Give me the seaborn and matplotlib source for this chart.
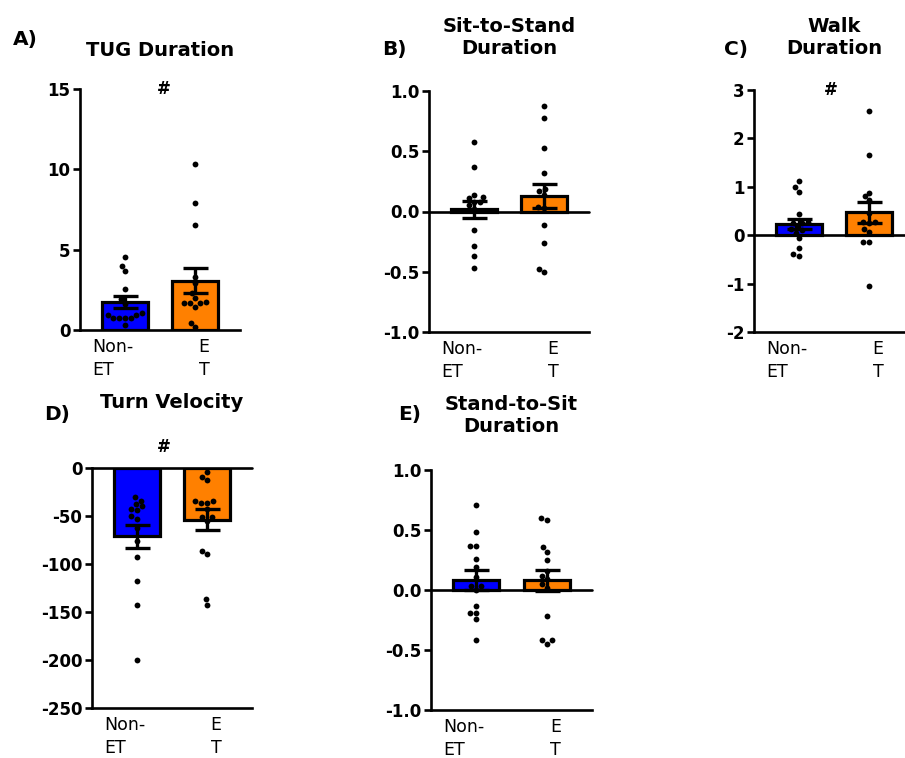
import numpy as np
import pandas as pd
import matplotlib
matplotlib.use("Agg")
import matplotlib.pyplot as plt
import matplotlib.transforms as mtransforms
import seaborn as sns

sns.set_style("ticks")
plt.rcParams['font.family'] = ['DejaVu Sans']
plt.rcParams.update({"axes.edgecolor": "black", "text.color": "black", "xtick.color": "black",
                     "ytick.color": "black", "axes.labelcolor": "black"})

groups = ["Non-ET", "ET"]
tick_labels = ["Non-\nET", "E\nT"]
colors = ["#0000FF", "#FF8000"]

# A) TUG Duration
tug_non = [4.53, 4.0, 3.68, 2.54, 1.9, 1.6, 1.04, 0.96, 0.93, 0.73, 0.73, 0.73, 0.73, 0.31]
tug_et = [10.34, 7.93, 6.54, 3.3, 2.9, 2.3, 1.98, 1.77, 1.66, 1.66, 1.66, 1.45, 0.42, 0.17]
tug_mean = [1.75, 3.07]
tug_sem = [0.37, 0.78]

# B) Sit-to-Stand Duration
sts_non = [0.58, 0.37, 0.14, 0.12, 0.11, 0.08, 0.08, 0.05, 0.02, -0.15, -0.29, -0.37, -0.47]
sts_et = [0.875, 0.775, 0.53, 0.32, 0.19, 0.17, 0.14, 0.04, 0.03, -0.11, -0.26, -0.475, -0.505]
sts_mean = [0.02, 0.13]
sts_sem = [0.07, 0.10]

# C) Walk Duration
walk_non = [1.12, 0.99, 0.89, 0.44, 0.28, 0.26, 0.25, 0.18, 0.12, 0.10, 0.05, -0.06, -0.26, -0.39, -0.43]
walk_et = [2.56, 1.66, 0.88, 0.81, 0.73, 0.45, 0.27, 0.27, 0.25, 0.12, 0.07, -0.15, -0.15, -1.04]
walk_mean = [0.23, 0.47]
walk_sem = [0.11, 0.21]

# D) Turn Velocity
turn_non = [-30.6, -34, -38, -40, -42.4, -44, -50.4, -53, -62, -76.4, -93, -118, -142.4, -200]
turn_et = [-4.5, -9.4, -12.2, -34.8, -34.8, -36.5, -36.5, -42.7, -51, -51, -54.9, -86, -89.6, -136.5, -142.4]
turn_mean = [-71, -54]
turn_sem = [12, 11]

# E) Stand-to-Sit Duration
sit_non = [0.71, 0.48, 0.37, 0.37, 0.26, 0.19, 0.105, 0.03, 0.03, 0.0, -0.13, -0.19, -0.19, -0.24, -0.42]
sit_et = [0.6, 0.58, 0.36, 0.32, 0.25, 0.16, 0.12, 0.09, 0.05, 0.02, -0.22, -0.42, -0.42, -0.45]
sit_mean = [0.085, 0.08]
sit_sem = [0.085, 0.09]

W, H = 905, 758
fig = plt.figure(figsize=(W / 100, H / 100), dpi=100)


def rect(l, r, t, b):
    return [l / W, 1 - b / H, (r - l) / W, (b - t) / H]


panels = [
    dict(letter="A)", title="TUG Duration", non=tug_non, et=tug_et, mean=tug_mean, sem=tug_sem,
         rect=rect(80, 240, 89, 330), ylim=(0, 15), yticks=[0, 5, 10, 15], fmt="{:.0f}",
         zero=False, hash_x=0.56, hash_dy=0, letter_xy=(13, 39), title_y=50),
    dict(letter="B)", title="Sit-to-Stand\nDuration", non=sts_non, et=sts_et, mean=sts_mean, sem=sts_sem,
         rect=rect(429, 589, 91, 332), ylim=(-1, 1), yticks=[-1, -0.5, 0, 0.5, 1], fmt="{:.1f}",
         zero=True, hash_x=None, hash_dy=0, letter_xy=(382, 50), title_y=38),
    dict(letter="C)", title="Walk\nDuration", non=walk_non, et=walk_et, mean=walk_mean, sem=walk_sem,
         rect=rect(754, 914, 90, 332), ylim=(-2, 3), yticks=[-2, -1, 0, 1, 2, 3], fmt="{:.0f}",
         zero=True, hash_x=0.45, hash_dy=0, letter_xy=(724, 50), title_y=38),
    dict(letter="D)", title="Turn Velocity", non=turn_non, et=turn_et, mean=turn_mean, sem=turn_sem,
         rect=rect(92, 252, 468, 708), ylim=(-250, 0), yticks=[-250, -200, -150, -100, -50, 0], fmt="{:.0f}",
         zero=True, hash_x=0.38, hash_dy=21, letter_xy=(44, 414), title_y=403),
    dict(letter="E)", title="Stand-to-Sit\nDuration", non=sit_non, et=sit_et, mean=sit_mean, sem=sit_sem,
         rect=rect(431, 592, 470, 710), ylim=(-1, 1), yticks=[-1, -0.5, 0, 0.5, 1], fmt="{:.1f}",
         zero=True, hash_x=None, hash_dy=0, letter_xy=(398, 414), title_y=415),
]

LW = 1.9
for p in panels:
    ax = fig.add_axes(p["rect"])
    bar_df = pd.DataFrame({"group": groups, "value": p["mean"]})
    sns.barplot(data=bar_df, x="group", y="value", hue="group", order=groups, hue_order=groups,
                palette=colors, saturation=1, legend=False, width=0.66, edgecolor="black",
                linewidth=2.3, errorbar=None, ax=ax, zorder=2)
    pts = pd.DataFrame({"group": ["Non-ET"] * len(p["non"]) + ["ET"] * len(p["et"]),
                        "value": list(p["non"]) + list(p["et"])})
    sns.swarmplot(data=pts, x="group", y="value", order=groups, color="black", size=4.2,
                  ax=ax, zorder=4)
    ax.errorbar([0, 1], p["mean"], yerr=p["sem"], fmt="none", ecolor="black",
                elinewidth=2.4, capsize=9, capthick=2.4, zorder=5)
    ax.set_xlim(-0.64, 1.64)
    ax.set_ylim(*p["ylim"])
    ax.set_yticks(p["yticks"])
    ax.set_yticklabels([p["fmt"].format(v) for v in p["yticks"]], fontweight="bold", fontsize=12)
    ax.set_xticks([0, 1])
    ax.set_xticklabels(tick_labels, fontsize=12.5, linespacing=1.3, multialignment="left")
    ax.set_xlabel("")
    ax.set_ylabel("")
    for s in ["top", "right"]:
        ax.spines[s].set_visible(False)
    for s in ["left", "bottom"]:
        ax.spines[s].set_linewidth(LW)
    ax.tick_params(axis="y", length=5, width=LW, pad=2)
    ax.tick_params(axis="x", length=0, pad=6)
    offs = [-12, 9]
    for lab, dx in zip(ax.get_xticklabels(), offs):
        lab.set_transform(lab.get_transform() + mtransforms.ScaledTranslation(dx / 100, 0, fig.dpi_scale_trans))
    if p["zero"]:
        ax.axhline(0, color="black", linewidth=LW, zorder=6, clip_on=False)
    if p["hash_x"] is not None:
        tr = mtransforms.blended_transform_factory(ax.transData, ax.transAxes)
        tr = tr + mtransforms.ScaledTranslation(0, p["hash_dy"] / 100, fig.dpi_scale_trans)
        ax.text(p["hash_x"], 1, "#", ha="center", va="center", fontsize=12, fontweight="bold",
                transform=tr, zorder=7, clip_on=False)
    cx = (p["rect"][0] + p["rect"][2] / 2)
    fig.text(cx, 1 - p["title_y"] / H, p["title"], ha="center", va="center", fontsize=14,
             fontweight="bold", linespacing=1.2)
    lx, ly = p["letter_xy"]
    fig.text(lx / W, 1 - ly / H, p["letter"], ha="left", va="center", fontsize=14.5, fontweight="bold")

fig.savefig("out.png", dpi=100)
